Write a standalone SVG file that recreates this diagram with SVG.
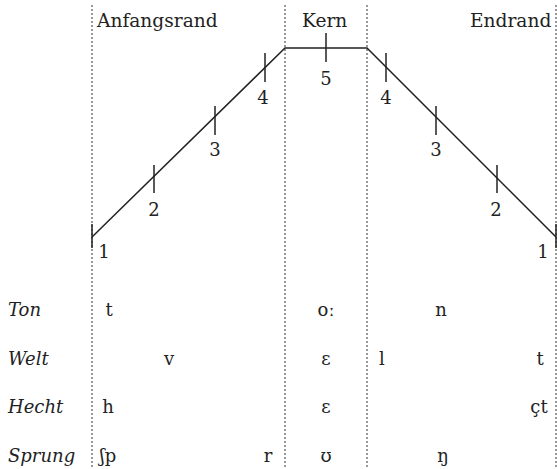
<svg xmlns="http://www.w3.org/2000/svg" width="557" height="469" viewBox="0 0 557 469">
<style>
.t{font-family:"DejaVu Serif","Liberation Serif",serif;font-size:18px;fill:#222}
.h{font-size:18.6px}
.i{font-family:"DejaVu Serif","Liberation Serif",serif;font-size:18px;font-style:italic;fill:#222}
.m{text-anchor:middle}
.d{stroke:#555;stroke-width:1.2;stroke-dasharray:2 2;fill:none}
.l{stroke:#222;stroke-width:1.5;fill:none}
</style>
<rect width="557" height="469" fill="#fff"/>
<g id="dividers">
<line class="d" x1="92" y1="5" x2="92" y2="469"/>
<line class="d" x1="285" y1="5" x2="285" y2="469"/>
<line class="d" x1="367" y1="5" x2="367" y2="469"/>
<line class="d" x1="556" y1="5" x2="556" y2="469"/>
</g>
<g id="headers">
<text class="t h" x="97" y="27">Anfangsrand</text>
<text class="t h" x="302" y="27">Kern</text>
<text class="t h" x="470" y="27">Endrand</text>
</g>
<g id="connectors">
<polyline class="l" points="92,237 285,48 367,48 556,237"/>
<g id="ticks" class="l">
<line x1="92" y1="224" x2="92" y2="248"/>
<line x1="154" y1="165" x2="154" y2="193"/>
<line x1="215" y1="106" x2="215" y2="135"/>
<line x1="265" y1="53" x2="265" y2="82"/>
<line x1="326" y1="33" x2="326" y2="62"/>
<line x1="386" y1="53" x2="386" y2="82"/>
<line x1="436" y1="106" x2="436" y2="135"/>
<line x1="497" y1="165" x2="497" y2="193"/>
<line x1="556" y1="224" x2="556" y2="248"/>
</g>
</g>
<g id="numbers" class="t m">
<text x="104" y="258">1</text>
<text x="154" y="216">2</text>
<text x="215" y="156">3</text>
<text x="263" y="104">4</text>
<text x="326" y="85">5</text>
<text x="386" y="104">4</text>
<text x="436" y="156">3</text>
<text x="496" y="216">2</text>
<text x="543" y="258">1</text>
</g>
<g id="row-ton">
<text class="i" x="8" y="316">Ton</text>
<text class="t m" x="109" y="316">t</text>
<text class="t m" x="326" y="316">oː</text>
<text class="t m" x="441" y="316">n</text>
</g>
<g id="row-welt">
<text class="i" x="8" y="365">Welt</text>
<text class="t m" x="169" y="365">v</text>
<text class="t m" x="326" y="365">ɛ</text>
<text class="t m" x="382" y="365">l</text>
<text class="t m" x="540" y="365">t</text>
</g>
<g id="row-hecht">
<text class="i" x="8" y="413">Hecht</text>
<text class="t m" x="108" y="413">h</text>
<text class="t m" x="326" y="413">ɛ</text>
<text class="t m" x="539" y="413">çt</text>
</g>
<g id="row-sprung">
<text class="i" x="8" y="462">Sprung</text>
<text class="t m" x="108" y="462">ʃp</text>
<text class="t m" x="268" y="462">r</text>
<text class="t m" x="326" y="462">ʊ</text>
<text class="t m" x="443" y="462">ŋ</text>
</g>
</svg>
